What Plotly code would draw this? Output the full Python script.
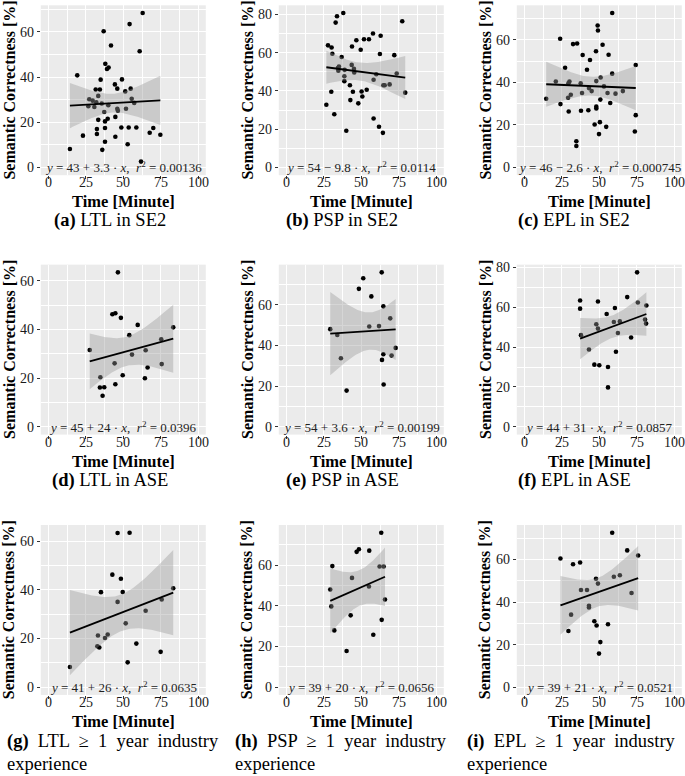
import numpy as np
import plotly.graph_objects as go

# ---------------- data ----------------
ltl_se2_time = [14.4, 19.3, 23.1, 26.7, 27.3, 29.6, 30.7, 31.6, 32.0, 32.4, 32.4, 33.3, 33.3, 34.4, 34.9, 35.6, 36.0,
                36.9, 37.3, 37.8, 37.8, 37.8, 38.0, 39.1, 39.6, 40.0, 40.2, 41.8, 44.4, 44.7, 44.7, 46.0, 46.0, 46.4,
                49.1, 48.7, 51.3, 51.8, 52.9, 53.6, 54.2, 54.9, 55.6, 57.3, 58.7, 60.9, 61.8, 62.9, 67.6, 70.0, 74.7]
ltl_se2_score = [8.2, 40.8, 14.1, 27.1, 30.2, 29.6, 26.8, 34.5, 28.9, 17.0, 14.8, 21.1, 31.7, 34.5, 38.9, 28.3, 7.8,
                 60.3, 24.6, 20.4, 17.5, 11.4, 45.9, 43.6, 21.6, 27.6, 44.3, 54.0, 36.8, 22.4, 13.6, 34.9, 26.0, 25.1,
                 39.0, 17.7, 33.7, 26.0, 10.3, 17.7, 63.5, 34.9, 30.4, 28.6, 17.7, 51.5, 2.6, 68.4, 15.4, 17.5, 14.5]

psp_se2_time = [26.7, 27.8, 30.0, 30.2, 30.7, 32.0, 32.9, 33.8, 34.4, 34.7, 35.1, 36.9, 38.0, 38.7, 38.7, 38.9, 40.0,
                42.4, 42.7, 43.6, 43.8, 44.4, 45.1, 45.3, 46.7, 48.0, 49.6, 50.2, 50.7, 51.8, 53.6, 55.1, 57.8, 58.2,
                58.2, 60.0, 61.8, 62.4, 62.9, 64.4, 64.7, 65.6, 68.9, 72.0, 73.6, 77.3, 79.3]
psp_se2_score = [32.8, 63.8, 39.6, 62.7, 59.4, 27.8, 75.7, 79.0, 52.0, 50.6, 52.7, 57.7, 80.7, 45.1, 47.7, 51.0, 19.2,
                 43.0, 35.2, 53.6, 63.2, 39.6, 51.5, 49.6, 66.5, 33.5, 61.5, 39.7, 37.1, 67.0, 40.6, 67.0, 70.0, 45.8,
                 25.6, 48.7, 21.3, 59.3, 68.8, 18.1, 43.0, 43.0, 43.4, 58.7, 49.1, 76.4, 39.1]

epl_se2_time = [14.6, 21.0, 23.9, 24.1, 27.2, 29.2, 29.4, 29.6, 30.1, 31.0, 32.5, 34.7, 34.7, 35.2, 37.6, 37.8, 38.5,
                38.9, 41.8, 42.7, 43.1, 43.8, 44.9, 46.9, 47.8, 48.0, 48.0, 48.0, 48.9, 49.1, 49.8, 50.4, 50.7, 50.9,
                52.2, 53.1, 54.6, 55.5, 56.2, 57.3, 58.6, 58.6, 60.8, 65.7, 73.7, 74.3, 74.3]
epl_se2_score = [32.3, 40.4, 60.5, 29.8, 46.9, 32.8, 39.6, 26.3, 40.4, 34.2, 58.0, 12.3, 10.1, 58.3, 39.6, 26.7, 35.0,
                 52.9, 45.9, 26.9, 37.3, 50.5, 35.9, 20.2, 54.6, 40.6, 27.7, 28.6, 66.7, 64.4, 15.7, 21.3, 31.9, 42.3,
                 57.7, 38.1, 19.1, 35.0, 53.0, 30.3, 44.1, 72.6, 34.7, 35.9, 16.9, 48.2, 24.6]

ltl_ase_time = [27.6, 34.4, 34.7, 36.2, 37.3, 42.7, 44.2, 44.7, 44.7, 46.4, 48.4, 49.6, 54.0, 55.8, 59.6, 64.4, 64.9,
                66.2, 75.3, 75.6, 83.3]
ltl_ase_score = [31.6, 16.2, 20.4, 12.8, 16.3, 46.3, 26.1, 46.7, 17.5, 63.5, 44.8, 21.2, 37.7, 29.7, 41.9, 20.0, 31.5,
                 24.4, 36.0, 25.8, 40.9]

psp_ase_time = [29.3, 34.0, 36.4, 40.2, 48.4, 51.3, 55.3, 56.7, 61.8, 63.6, 63.8, 64.7, 64.7, 64.9, 69.3, 70.2, 72.9]
psp_ase_score = [48.0, 45.1, 33.7, 17.8, 67.8, 73.0, 49.3, 64.1, 49.5, 75.9, 32.9, 59.2, 35.7, 20.8, 53.3, 35.0, 38.8]

epl_ase_time = [37.2, 37.2, 37.8, 43.1, 46.7, 48.0, 49.1, 49.1, 50.0, 54.9, 55.8, 55.8, 59.7, 60.4, 61.1, 62.4, 63.7,
                68.6, 71.2, 75.2, 75.7, 80.5, 81.2, 81.4]
epl_ase_score = [63.4, 59.3, 46.0, 38.8, 31.2, 51.5, 49.3, 62.9, 30.9, 56.6, 30.0, 19.8, 52.6, 59.6, 37.7, 47.1, 52.9,
                 65.1, 44.8, 77.5, 62.4, 53.8, 51.8, 60.9]

ltl_ind_time = [14.4, 33.1, 32.7, 34.0, 35.1, 37.8, 39.6, 42.7, 46.2, 46.2, 48.4, 49.6, 51.6, 52.9, 54.2, 58.7, 64.9,
                74.9, 75.6, 83.3]
ltl_ind_score = [8.3, 21.2, 16.8, 16.3, 39.0, 20.2, 21.6, 46.2, 63.3, 35.0, 44.5, 39.1, 26.2, 10.2, 63.4, 17.9, 31.4,
                 14.5, 36.0, 40.6]

psp_ind_time = [29.3, 30.0, 30.7, 32.0, 40.2, 42.9, 43.8, 46.9, 48.4, 55.3, 55.1, 58.0, 62.2, 63.3, 63.6, 64.9, 65.8]
psp_ind_score = [48.0, 39.7, 59.5, 27.9, 17.8, 35.3, 53.7, 66.5, 67.8, 67.1, 49.5, 25.8, 59.3, 75.9, 33.1, 59.3, 43.1]

epl_ind_time = [24.1, 29.4, 31.2, 32.5, 37.2, 37.8, 41.8, 43.1, 43.1, 46.7, 47.8, 48.2, 49.1, 49.8, 50.7, 55.8, 58.6,
                59.7, 63.7, 68.6, 71.5, 75.9]
epl_ind_score = [60.5, 26.4, 34.1, 57.8, 58.6, 45.7, 45.7, 38.3, 37.5, 31.0, 51.0, 29.0, 48.7, 15.8, 21.2, 29.6, 72.6,
                 51.9, 52.6, 64.3, 44.3, 61.9]

eq_intercept = [43, 54, 46, 45, 54, 44, 41, 39, 39]
eq_slope = [3.3, -9.8, -2.6, 24, 3.6, 31, 26, 20, 21]
eq_r2 = ["0.00136", "0.0114", "0.000745", "0.0396", "0.00199", "0.0857", "0.0635", "0.0656", "0.0521"]

caption_letters = ["a", "b", "c", "d", "e", "f", "g", "h", "i"]
caption_first = ["LTL in SE2", "PSP in SE2", "EPL in SE2",
                 "LTL in ASE", "PSP in ASE", "EPL in ASE",
                 "LTL ≥ 1 year industry", "PSP ≥ 1 year industry", "EPL ≥ 1 year industry"]
caption_second = ["", "", "", "", "", "", "experience", "experience", "experience"]

x_tick_vals = [0, 25, 50, 75, 100]
x_title = "Time [Minute]"
y_title = "Semantic Correctness [%]"

panel_times = [ltl_se2_time, psp_se2_time, epl_se2_time, ltl_ase_time, psp_ase_time, epl_ase_time,
               ltl_ind_time, psp_ind_time, epl_ind_time]
panel_scores = [ltl_se2_score, psp_se2_score, epl_se2_score, ltl_ase_score, psp_ase_score, epl_ase_score,
                ltl_ind_score, psp_ind_score, epl_ind_score]

# ---------------- layout geometry (pixels) ----------------
W, H = 685, 776
col_left = [40.8, 278.8, 516.8]
plot_w = 165.0
row_zero = [164.3, 425.0, 686.7]   # pixel row of y = 0
top_off, bot_off = 163.0, 7.8
cap_center = [110, 342, 574]
cap_left = [5, 233, 465]

SERIF = "Liberation Serif"
CAP_SIZE = 18.5
TICK_FONT = dict(family=SERIF, size=14, color="#1a1a1a")


def t975(df):
    z = 1.959964
    g1 = (z ** 3 + z) / 4
    g2 = (5 * z ** 5 + 16 * z ** 3 + 3 * z) / 96
    g3 = (3 * z ** 7 + 19 * z ** 5 + 17 * z ** 3 - 15 * z) / 384
    return z + g1 / df + g2 / df ** 2 + g3 / df ** 3


fig = go.Figure()
annotations = []

for i in range(9):
    r, c = divmod(i, 3)
    sfx = "" if i == 0 else str(i + 1)
    xa, ya = "x" + sfx, "y" + sfx
    x = np.array(panel_times[i], float)
    y = np.array(panel_scores[i], float)
    n = len(x)

    # points
    fig.add_trace(go.Scatter(x=x, y=y, mode="markers", xaxis=xa, yaxis=ya,
                             marker=dict(color="black", size=4.6, line=dict(width=0)),
                             hoverinfo="skip"))
    # linear fit + 95% confidence band
    xm = x.mean()
    sxx = ((x - xm) ** 2).sum()
    b1 = ((x - xm) * (y - y.mean())).sum() / sxx
    b0 = y.mean() - b1 * xm
    resid = y - (b0 + b1 * x)
    s = np.sqrt((resid ** 2).sum() / (n - 2))
    xg = np.linspace(x.min(), x.max(), 80)
    yg = b0 + b1 * xg
    se = s * np.sqrt(1 / n + (xg - xm) ** 2 / sxx)
    tq = t975(n - 2)
    up, lo = yg + tq * se, yg - tq * se
    fig.add_trace(go.Scatter(x=np.concatenate([xg, xg[::-1]]), y=np.concatenate([up, lo[::-1]]),
                             mode="lines", fill="toself", fillcolor="rgba(153,153,153,0.4)",
                             line=dict(width=0), xaxis=xa, yaxis=ya, hoverinfo="skip"))
    fig.add_trace(go.Scatter(x=xg, y=yg, mode="lines", line=dict(color="black", width=1.8),
                             xaxis=xa, yaxis=ya, hoverinfo="skip"))

    left = col_left[c]
    zero = row_zero[r]
    D = y.max()
    xdom = [left / W, (left + plot_w) / W]
    ydom = [1 - (zero + bot_off) / H, 1 - (zero - top_off) / H]

    axis_common = dict(showline=False, zeroline=False, ticks="outside", ticklen=3, tickwidth=1,
                       tickcolor="#333333", gridcolor="white", gridwidth=1.1, tickfont=TICK_FONT)
    fig.layout["xaxis" + sfx] = dict(domain=xdom, anchor=ya, range=[-5, 105], tickvals=x_tick_vals,
                                     showticklabels=False,
                                     minor=dict(tickvals=[12.5, 37.5, 62.5, 87.5], showgrid=True,
                                                gridcolor="white", gridwidth=0.5, ticks=""),
                                     **axis_common)
    fig.layout["yaxis" + sfx] = dict(domain=ydom, anchor=xa, range=[-0.05 * D, 1.05 * D], tick0=0, dtick=20,
                                     minor=dict(tick0=10, dtick=20, showgrid=True, gridcolor="white",
                                                gridwidth=0.5, ticks=""),
                                     **axis_common)

    # x tick labels (placed right under the tick marks, as in the reference)
    for tv in x_tick_vals:
        annotations.append(dict(text=str(tv), x=tv, xref=xa, y=1 - (zero + 15.3) / H, yref="paper",
                                showarrow=False, xanchor="center", yanchor="middle", font=TICK_FONT))

    # regression equation label
    sign = "+" if eq_slope[i] >= 0 else "−"
    eq = (f"<i>y</i> = {eq_intercept[i]} {sign} {abs(eq_slope[i]):g} · <i>x</i>,\u00a0\u00a0"
          f"<i>r</i><sup>2</sup> = {eq_r2[i]}")
    annotations.append(dict(text=eq, x=50, y=0, xref=xa, yref=ya, showarrow=False, xanchor="center",
                            yanchor="middle", font=dict(family=SERIF, size=13, color="#222222")))

    # axis titles
    annotations.append(dict(text=f"<b>{x_title}</b>", x=(left + plot_w / 2) / W, y=1 - (zero + 34.5) / H,
                            xref="paper", yref="paper", showarrow=False, xanchor="center", yanchor="middle",
                            font=dict(family=SERIF, size=16.5, color="black")))
    annotations.append(dict(text=f"<b>{y_title}</b>", x=(left - 31.5) / W, y=1 - (zero - 77.6) / H,
                            xref="paper", yref="paper", showarrow=False, xanchor="center", yanchor="middle",
                            textangle=-90, font=dict(family=SERIF, size=16, color="black")))

    # sub-figure captions
    if caption_second[i]:
        first = caption_first[i].replace(" ", " \u00a0")
        annotations.append(dict(text=f"<b>({caption_letters[i]})</b> \u00a0{first}",
                                x=cap_left[c] / W, y=1 - (zero + 54.3) / H, xref="paper", yref="paper",
                                showarrow=False, xanchor="left", yanchor="middle",
                                font=dict(family=SERIF, size=CAP_SIZE, color="black")))
        annotations.append(dict(text=caption_second[i], x=cap_left[c] / W, y=1 - (zero + 77.3) / H,
                                xref="paper", yref="paper", showarrow=False, xanchor="left", yanchor="middle",
                                font=dict(family=SERIF, size=CAP_SIZE, color="black")))
    else:
        annotations.append(dict(text=f"<b>({caption_letters[i]})</b> {caption_first[i]}",
                                x=cap_center[c] / W, y=1 - (zero + 53.7) / H, xref="paper", yref="paper",
                                showarrow=False, xanchor="center", yanchor="middle",
                                font=dict(family=SERIF, size=CAP_SIZE, color="black")))

fig.update_layout(width=W, height=H, margin=dict(l=0, r=0, t=0, b=0), paper_bgcolor="white",
                  plot_bgcolor="#EBEBEB", showlegend=False, annotations=annotations)

fig.write_html("out.html", config={"displayModeBar": False},
               post_script="document.body.style.margin='0';")
